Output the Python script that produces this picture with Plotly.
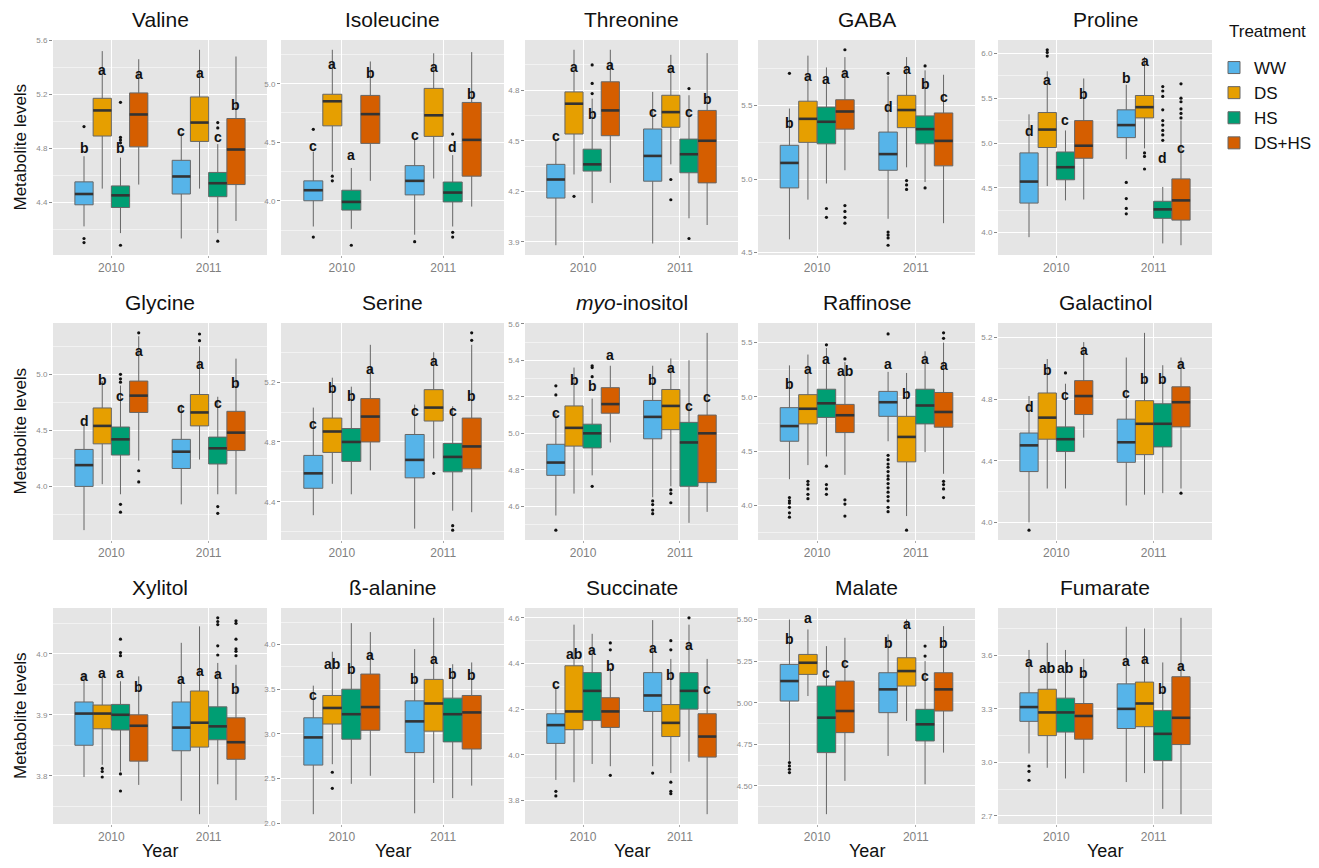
import plotly.graph_objects as go

# ---------------- data ----------------
metabolites = ["Valine", "Isoleucine", "Threonine", "GABA", "Proline",
               "Glycine", "Serine", "<i>myo</i>-inositol", "Raffinose", "Galactinol",
               "Xylitol", "ß-alanine", "Succinate", "Malate", "Fumarate"]
years = ["2010", "2011"]
treatments = ["WW", "DS", "HS", "DS+HS"]
# box order per metabolite: 2010 WW, DS, HS, DS+HS, 2011 WW, DS, HS, DS+HS
lower = [
    [4.22, 4.50, 4.17, 4.53, 4.13, 4.50, 4.17, 4.26],
    [3.78, 4.25, 3.76, 4.17, 3.71, 4.19, 3.78, 3.95],
    [3.88, 4.30, 4.13, 4.25, 3.89, 4.36, 4.04, 4.00],
    [4.59, 4.86, 4.97, 5.06, 4.73, 5.08, 4.98, 4.70],
    [3.95, 4.52, 4.36, 4.37, 4.82, 4.94, 3.88, 3.86],
    [3.61, 4.02, 3.93, 4.23, 3.84, 4.24, 3.93, 3.93],
    [4.31, 4.52, 4.45, 4.61, 4.22, 4.69, 4.34, 4.33],
    [4.55, 4.67, 4.77, 4.95, 4.65, 4.71, 4.51, 4.57],
    [4.24, 4.37, 4.45, 4.28, 4.59, 3.90, 4.49, 4.29],
    [4.00, 4.22, 4.22, 4.55, 4.11, 4.18, 4.19, 4.22],
    [3.798, 3.818, 3.807, 3.785, 3.759, 3.737, 3.786, 3.760],
    [2.10, 2.66, 2.44, 2.53, 2.11, 2.45, 2.28, 2.42],
    [3.89, 3.88, 3.96, 3.95, 3.95, 3.92, 3.97, 3.74],
    [4.65, 5.04, 4.33, 4.53, 4.68, 4.89, 4.51, 4.70],
    [3.05, 2.97, 2.91, 2.94, 2.89, 2.94, 2.74, 2.71],
]
q1 = [
    [4.38, 4.89, 4.36, 4.81, 4.46, 4.85, 4.44, 4.53],
    [4.00, 4.64, 3.92, 4.49, 4.05, 4.55, 3.99, 4.21],
    [4.16, 4.54, 4.32, 4.53, 4.26, 4.58, 4.31, 4.25],
    [4.94, 5.25, 5.24, 5.34, 5.06, 5.35, 5.24, 5.09],
    [4.33, 4.95, 4.59, 4.83, 5.06, 5.28, 4.16, 4.14],
    [4.00, 4.38, 4.28, 4.66, 4.16, 4.54, 4.20, 4.32],
    [4.49, 4.73, 4.67, 4.80, 4.56, 4.94, 4.60, 4.62],
    [4.77, 4.93, 4.92, 5.11, 4.97, 5.02, 4.71, 4.73],
    [4.59, 4.75, 4.81, 4.67, 4.82, 4.40, 4.75, 4.72],
    [4.33, 4.54, 4.46, 4.70, 4.39, 4.44, 4.49, 4.62],
    [3.850, 3.877, 3.875, 3.824, 3.841, 3.847, 3.859, 3.827],
    [2.65, 3.11, 2.94, 3.04, 2.79, 3.03, 2.91, 2.83],
    [4.05, 4.11, 4.15, 4.12, 4.19, 4.08, 4.20, 3.99],
    [5.01, 5.17, 4.70, 4.82, 4.94, 5.10, 4.77, 4.95],
    [3.23, 3.15, 3.17, 3.13, 3.19, 3.20, 3.01, 3.10],
]
median = [
    [4.46, 5.08, 4.45, 5.05, 4.59, 4.99, 4.54, 4.79],
    [4.09, 4.85, 3.99, 4.74, 4.17, 4.73, 4.07, 4.52],
    [4.27, 4.72, 4.36, 4.68, 4.41, 4.67, 4.42, 4.50],
    [5.11, 5.41, 5.39, 5.46, 5.17, 5.47, 5.34, 5.26],
    [4.57, 5.15, 4.73, 4.97, 5.20, 5.40, 4.26, 4.36],
    [4.19, 4.54, 4.42, 4.81, 4.31, 4.66, 4.34, 4.48],
    [4.59, 4.87, 4.80, 4.97, 4.68, 5.03, 4.70, 4.77],
    [4.84, 5.03, 5.00, 5.16, 5.09, 5.15, 4.95, 5.00],
    [4.73, 4.89, 4.94, 4.83, 4.95, 4.63, 4.92, 4.86],
    [4.50, 4.68, 4.54, 4.82, 4.52, 4.64, 4.64, 4.78],
    [3.902, 3.902, 3.900, 3.882, 3.879, 3.887, 3.881, 3.855],
    [2.96, 3.29, 3.22, 3.30, 3.14, 3.34, 3.22, 3.24],
    [4.13, 4.19, 4.28, 4.19, 4.26, 4.14, 4.28, 4.08],
    [5.13, 5.24, 4.91, 4.95, 5.08, 5.19, 4.87, 5.08],
    [3.31, 3.28, 3.28, 3.26, 3.30, 3.33, 3.16, 3.25],
]
q3 = [
    [4.55, 5.17, 4.52, 5.21, 4.71, 5.18, 4.62, 5.02],
    [4.17, 4.91, 4.09, 4.90, 4.30, 4.96, 4.16, 4.84],
    [4.36, 4.79, 4.45, 4.85, 4.57, 4.77, 4.51, 4.68],
    [5.23, 5.53, 5.49, 5.54, 5.32, 5.57, 5.43, 5.45],
    [4.89, 5.34, 4.90, 5.25, 5.37, 5.53, 4.35, 4.60],
    [4.33, 4.70, 4.53, 4.94, 4.42, 4.82, 4.44, 4.67],
    [4.71, 4.96, 4.89, 5.09, 4.85, 5.15, 4.79, 4.96],
    [4.94, 5.15, 5.05, 5.25, 5.18, 5.24, 5.06, 5.10],
    [4.90, 5.02, 5.07, 4.93, 5.05, 4.82, 5.07, 5.04],
    [4.58, 4.84, 4.62, 4.92, 4.67, 4.79, 4.77, 4.88],
    [3.921, 3.916, 3.917, 3.900, 3.921, 3.939, 3.913, 3.895],
    [3.18, 3.43, 3.50, 3.67, 3.37, 3.61, 3.40, 3.43],
    [4.18, 4.39, 4.36, 4.25, 4.36, 4.22, 4.36, 4.18],
    [5.23, 5.29, 5.10, 5.13, 5.18, 5.27, 4.96, 5.18],
    [3.39, 3.41, 3.36, 3.33, 3.44, 3.45, 3.29, 3.48],
]
upper = [
    [4.74, 5.52, 4.73, 5.46, 4.91, 5.53, 4.83, 5.48],
    [4.42, 5.29, 4.28, 5.19, 4.52, 5.26, 4.39, 5.27],
    [4.51, 5.04, 4.75, 5.04, 4.79, 5.01, 4.77, 5.02],
    [5.48, 5.84, 5.76, 5.83, 5.70, 5.83, 5.74, 5.71],
    [5.32, 5.80, 5.14, 5.72, 5.65, 5.96, 4.51, 5.25],
    [4.55, 4.94, 4.90, 5.34, 4.73, 5.25, 4.80, 5.14],
    [5.03, 5.23, 5.17, 5.45, 5.05, 5.40, 5.04, 5.45],
    [5.11, 5.36, 5.19, 5.37, 5.37, 5.41, 5.40, 5.55],
    [5.29, 5.39, 5.45, 5.32, 5.23, 5.22, 5.42, 5.50],
    [4.82, 5.06, 4.90, 5.17, 5.07, 5.23, 5.02, 5.07],
    [3.968, 3.965, 3.955, 3.963, 4.018, 4.045, 3.985, 3.982],
    [3.54, 3.92, 4.24, 4.14, 3.95, 4.30, 3.78, 3.80],
    [4.30, 4.57, 4.53, 4.38, 4.59, 4.42, 4.57, 4.42],
    [5.50, 5.44, 5.34, 5.39, 5.41, 5.50, 5.25, 5.46],
    [3.63, 3.67, 3.63, 3.58, 3.76, 3.75, 3.56, 3.81],
]
outliers = [
    [[4.96, 4.13, 4.10], [], [5.14, 4.88, 4.86, 4.84, 4.08], [], [], [], [4.99, 4.95, 4.11], []],
    [[4.61, 3.69], [4.21, 4.17], [3.62], [], [3.65], [], [4.57, 3.73, 3.69], []],
    [[], [4.17], [4.95, 4.84, 4.78], [], [], [4.27, 4.15], [4.81, 3.92], []],
    [[5.72], [], [4.80, 4.74], [5.88, 4.82, 4.78, 4.74, 4.70], [5.72, 4.64, 4.62, 4.60, 4.55],
     [4.99, 4.96, 4.93], [5.77, 4.94], []],
    [[], [6.04, 6.01, 5.97], [], [], [4.56, 4.38, 4.27, 4.21], [4.89, 4.85, 4.71],
     [5.63, 5.58, 5.52, 5.37, 5.25, 5.20, 5.14, 5.09, 5.03], [5.66, 5.50, 5.46, 5.38, 5.33, 5.28]],
    [[], [], [5.00, 4.96, 4.93, 3.84, 3.77], [5.37, 4.14, 4.04], [], [5.36, 5.30], [3.82, 3.76], []],
    [[], [], [], [], [], [4.59], [4.24, 4.21], [5.53, 5.48]],
    [[5.26, 5.21, 4.47], [], [5.37, 5.36, 5.31, 4.71], [], [4.63, 4.61, 4.58, 4.56],
     [4.69, 4.67, 4.62], [], []],
    [[4.07, 4.04, 4.02, 3.98, 3.93, 3.89], [4.22, 4.19, 4.15, 4.10, 4.06],
     [5.48, 4.36, 4.19, 4.15, 4.10], [5.35, 4.05, 4.01, 3.90],
     [5.58, 4.46, 4.42, 4.38, 4.35, 4.31, 4.27, 4.24, 4.20, 4.16, 4.12, 4.08, 4.04, 3.98, 3.94],
     [3.77], [], [5.59, 5.54, 4.22, 4.19, 4.15, 4.07]],
    [[3.95], [], [4.97], [], [], [], [], [4.19]],
    [[], [3.812, 3.807, 3.798], [4.024, 4.002, 3.997, 3.803, 3.775], [], [], [],
     [4.059, 4.053, 4.048, 4.013, 3.998], [4.054, 4.050, 4.024, 4.008, 4.004, 3.997]],
    [[], [2.57, 2.39], [], [], [], [], [], []],
    [[3.84, 3.82], [], [], [4.49, 4.46, 3.91], [3.92], [4.50, 4.46, 3.88, 3.84, 3.83], [4.60], []],
    [[4.64, 4.62, 4.60, 4.58], [], [], [], [], [], [5.34, 5.28], []],
    [[2.98, 2.95, 2.90], [], [], [], [], [], [], []],
]
letters = [
    ["b", "a", "b", "a", "c", "a", "c", "b"],
    ["c", "a", "a", "b", "c", "a", "d", "b"],
    ["c", "a", "b", "a", "c", "a", "c", "b"],
    ["b", "a", "a", "a", "d", "a", "b", "c"],
    ["d", "a", "c", "b", "b", "a", "d", "c"],
    ["d", "b", "c", "a", "c", "a", "c", "b"],
    ["c", "b", "b", "a", "c", "a", "c", "b"],
    ["c", "b", "b", "a", "b", "a", "c", "c"],
    ["b", "a", "a", "ab", "a", "b", "a", "a"],
    ["d", "b", "c", "a", "c", "b", "b", "a"],
    ["a", "a", "a", "b", "a", "a", "a", "b"],
    ["c", "ab", "b", "a", "b", "a", "b", "b"],
    ["c", "ab", "a", "b", "a", "b", "a", "c"],
    ["b", "a", "c", "c", "b", "a", "c", "b"],
    ["a", "ab", "ab", "b", "a", "a", "b", "a"],
]
letter_y = [
    [4.80, 5.38, 4.80, 5.35, 4.93, 5.36, 4.88, 5.12],
    [4.47, 5.17, 4.39, 5.09, 4.56, 5.14, 4.46, 4.91],
    [4.53, 4.94, 4.66, 4.95, 4.67, 4.93, 4.67, 4.75],
    [5.38, 5.70, 5.68, 5.72, 5.49, 5.75, 5.65, 5.56],
    [5.13, 5.70, 5.26, 5.55, 5.72, 5.91, 4.83, 4.95],
    [4.58, 4.95, 4.81, 5.21, 4.70, 5.09, 4.74, 4.92],
    [4.92, 5.16, 5.11, 5.29, 5.01, 5.34, 5.01, 5.11],
    [5.11, 5.29, 5.26, 5.43, 5.29, 5.36, 5.15, 5.20],
    [5.12, 5.26, 5.35, 5.24, 5.30, 5.03, 5.35, 5.29],
    [4.75, 4.99, 4.83, 5.12, 4.84, 4.93, 4.93, 5.03],
    [3.963, 3.968, 3.969, 3.945, 3.959, 3.971, 3.967, 3.942],
    [3.43, 3.78, 3.73, 3.88, 3.61, 3.84, 3.67, 3.66],
    [4.31, 4.44, 4.46, 4.39, 4.47, 4.35, 4.48, 4.29],
    [5.38, 5.51, 5.18, 5.24, 5.36, 5.47, 5.16, 5.36],
    [3.56, 3.53, 3.53, 3.50, 3.57, 3.58, 3.41, 3.54],
]
tick_step = [0.4, 0.5, 0.3, 0.5, 0.5, 0.5, 0.4, 0.2, 0.5, 0.4, 0.1, 0.5, 0.2, 0.25, 0.3]
tick_fmt = [".1f"] * 13 + [".2f", ".1f"]

# ---------------- styling ----------------
colors = ["#56B4E9", "#E69F00", "#009E73", "#D55E00"]
PAGE_W, PAGE_H = 1319, 868
OFF = 8  # default body margin of the html page
W, H = PAGE_W - 2 * OFF, PAGE_H - 2 * OFF
col_px = [(53, 267), (281, 504), (525, 738), (758, 975), (998, 1212)]
row_px = [(40, 255), (323, 540), (608, 824)]
DODGE = 0.75
BW = DODGE / 4
FONT = "Liberation Sans, Arial, sans-serif"


def fx(px):
    return (px - OFF) / W


def fy(py):
    return 1 - (py - OFF) / H


fig = go.Figure()
layout = {}
annotations = []

for p, name in enumerate(metabolites):
    r, c = divmod(p, 5)
    ax = "" if p == 0 else str(p + 1)
    xref, yref = "x" + ax, "y" + ax
    med_x, med_y = [], []
    out_x, out_y = [], []
    all_vals = []
    for yi in range(2):
        for ti in range(4):
            k = yi * 4 + ti
            pos = (yi + 1) + (ti - 1.5) * BW
            fig.add_trace(go.Box(
                x=[pos], q1=[q1[p][k]], median=[median[p][k]], q3=[q3[p][k]],
                lowerfence=[lower[p][k]], upperfence=[upper[p][k]],
                width=BW, fillcolor=colors[ti],
                line=dict(color="#666666", width=1), whiskerwidth=0,
                boxpoints=False, name=treatments[ti], legendgroup=treatments[ti],
                showlegend=(p == 0 and yi == 0), xaxis=xref, yaxis=yref,
                hoverinfo="skip"))
            med_x += [pos - BW / 2, pos + BW / 2, None]
            med_y += [median[p][k], median[p][k], None]
            for o in outliers[p][k]:
                out_x.append(pos)
                out_y.append(o)
            all_vals += [lower[p][k], upper[p][k], letter_y[p][k]] + outliers[p][k]
            annotations.append(dict(
                x=pos, y=letter_y[p][k], xref=xref, yref=yref,
                text="<b>%s</b>" % letters[p][k], showarrow=False,
                font=dict(family=FONT, size=14, color="#111111"),
                yanchor="middle", xanchor="center"))
    fig.add_trace(go.Scatter(x=med_x, y=med_y, mode="lines",
                             line=dict(color="#333333", width=2.6),
                             showlegend=False, xaxis=xref, yaxis=yref, hoverinfo="skip"))
    fig.add_trace(go.Scatter(x=out_x, y=out_y, mode="markers",
                             marker=dict(color="#111111", size=3.2),
                             showlegend=False, xaxis=xref, yaxis=yref, hoverinfo="skip"))
    lo_v, hi_v = min(all_vals), max(all_vals)
    pad = (hi_v - lo_v) * 0.05
    x0, x1 = col_px[c]
    t, b = row_px[r]
    layout["xaxis" + ax] = dict(
        domain=[fx(x0), fx(x1)], anchor=yref, range=[0.4, 2.6], automargin=False,
        tickvals=[1, 2], ticktext=years, showgrid=True, gridcolor="white",
        gridwidth=1.2, zeroline=False, showline=False, ticks="outside", ticklen=2,
        tickcolor="#aaaaaa", tickfont=dict(family=FONT, size=12, color="#7f7f7f"))
    layout["yaxis" + ax] = dict(
        domain=[fy(b), fy(t)], anchor=xref, range=[lo_v - pad, hi_v + pad],
        automargin=False,
        tick0=0, dtick=tick_step[p], tickformat=tick_fmt[p], showgrid=True,
        gridcolor="white", gridwidth=1.2, zeroline=False, showline=False,
        ticks="outside", ticklen=3, tickcolor="#888888",
        tickfont=dict(family=FONT, size=8, color="#8a8a8a"),
        minor=dict(dtick=tick_step[p] / 2, tick0=0, showgrid=True,
                   gridcolor="#F2F2F2", gridwidth=0.6, ticks=""))
    annotations.append(dict(
        x=fx((x0 + x1) / 2), y=fy(t - 7), xref="paper", yref="paper",
        text=name, showarrow=False, yanchor="bottom", xanchor="center",
        font=dict(family=FONT, size=21, color="#111111")))
    if r == 2:
        annotations.append(dict(
            x=fx((x0 + x1) / 2), y=fy(851), xref="paper", yref="paper",
            text="Year", showarrow=False, yanchor="middle", xanchor="center",
            font=dict(family=FONT, size=18, color="#111111")))

for r in range(3):
    t, b = row_px[r]
    annotations.append(dict(
        x=fx(20), y=fy((t + b) / 2), xref="paper", yref="paper",
        text="Metabolite levels", showarrow=False, textangle=-90,
        xanchor="center", yanchor="middle",
        font=dict(family=FONT, size=17, color="#111111")))

annotations.append(dict(
    x=fx(1227), y=fy(31), xref="paper", yref="paper", text="Treatment",
    showarrow=False, xanchor="left", yanchor="middle",
    font=dict(family=FONT, size=17, color="#111111")))

fig.update_layout(
    width=W, height=H, margin=dict(l=0, r=0, t=0, b=0, autoexpand=False),
    paper_bgcolor="white", plot_bgcolor="#E5E5E5",
    annotations=annotations,
    legend=dict(x=fx(1214), y=fy(50), xanchor="left", yanchor="top",
                font=dict(family=FONT, size=17, color="#111111"),
                bgcolor="rgba(0,0,0,0)", itemwidth=30, tracegroupgap=0),
    **layout)

fig.write_html("out.html")
